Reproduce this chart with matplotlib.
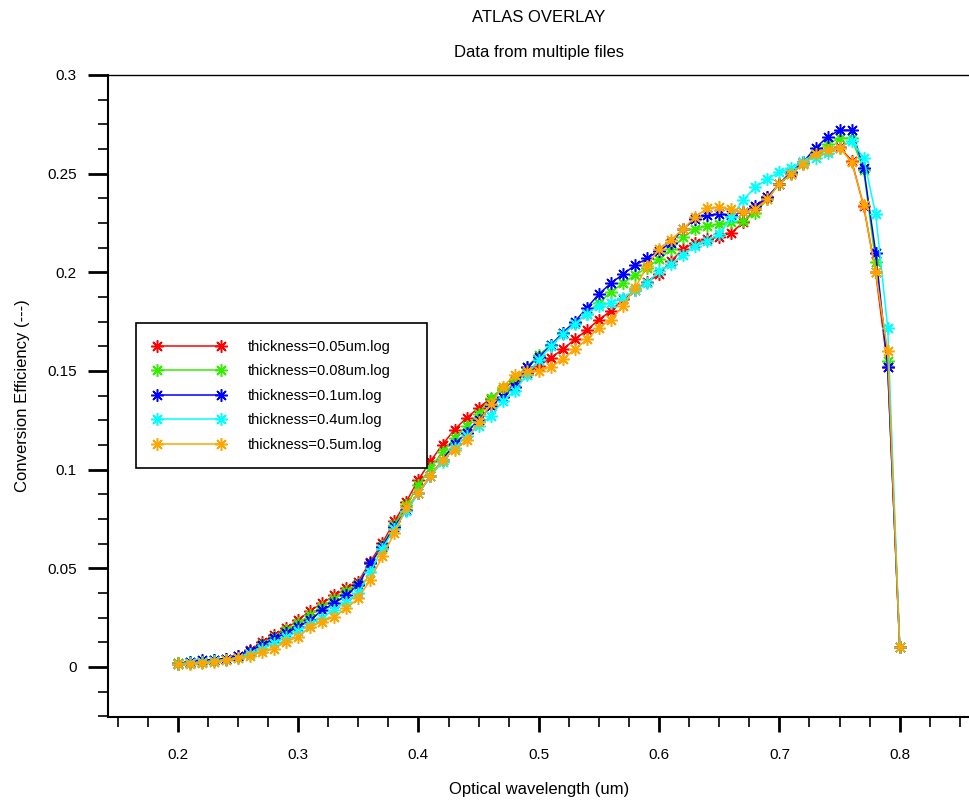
import matplotlib
matplotlib.use("Agg")
import matplotlib.pyplot as plt
from matplotlib.ticker import MultipleLocator
import numpy as np

plt.rcParams["font.family"] = ["Liberation Sans", "DejaVu Sans"]

# wavelength grid (um)
wavelength = [0.20, 0.21, 0.22, 0.23, 0.24, 0.25, 0.26, 0.27, 0.28, 0.29,
              0.30, 0.31, 0.32, 0.33, 0.34, 0.35, 0.36, 0.37, 0.38, 0.39,
              0.40, 0.41, 0.42, 0.43, 0.44, 0.45, 0.46, 0.47, 0.48, 0.49,
              0.50, 0.51, 0.52, 0.53, 0.54, 0.55, 0.56, 0.57, 0.58, 0.59,
              0.60, 0.61, 0.62, 0.63, 0.64, 0.65, 0.66, 0.67, 0.68, 0.69,
              0.70, 0.71, 0.72, 0.73, 0.74, 0.75, 0.76, 0.77, 0.78, 0.79,
              0.80]

eff_005 = [0.0020, 0.0022, 0.0027, 0.0033, 0.0042, 0.0055, 0.0085, 0.0125, 0.0160, 0.0195,
           0.0237, 0.0285, 0.0322, 0.0362, 0.0398, 0.0432, 0.0534, 0.0627, 0.0737, 0.0838,
           0.0949, 0.1042, 0.1127, 0.1203, 0.1262, 0.1313, 0.1360, 0.1410, 0.1450, 0.1490,
           0.1524, 0.1567, 0.1610, 0.1660, 0.1707, 0.1760, 0.1804, 0.1864, 0.1910, 0.1950,
           0.1990, 0.2058, 0.2117, 0.2150, 0.2168, 0.2180, 0.2200, 0.2253, 0.2320, 0.2380,
           0.2447, 0.2505, 0.2555, 0.2600, 0.2620, 0.2634, 0.2566, 0.2337, 0.2000, 0.1520,
           0.0100]

eff_008 = [0.0020, 0.0024, 0.0030, 0.0035, 0.0042, 0.0052, 0.0080, 0.0115, 0.0150, 0.0185,
           0.0220, 0.0265, 0.0305, 0.0345, 0.0385, 0.0420, 0.0525, 0.0615, 0.0720, 0.0820,
           0.0920, 0.1010, 0.1090, 0.1160, 0.1220, 0.1280, 0.1365, 0.1410, 0.1460, 0.1520,
           0.1580, 0.1630, 0.1690, 0.1745, 0.1787, 0.1846, 0.1900, 0.1945, 0.1985, 0.2024,
           0.2066, 0.2117, 0.2177, 0.2220, 0.2236, 0.2244, 0.2256, 0.2260, 0.2303, 0.2370,
           0.2450, 0.2500, 0.2550, 0.2610, 0.2650, 0.2680, 0.2680, 0.2520, 0.2050, 0.1550,
           0.0100]

eff_01 = [0.0017, 0.0025, 0.0034, 0.0037, 0.0042, 0.0055, 0.0081, 0.0110, 0.0144, 0.0170,
          0.0203, 0.0237, 0.0288, 0.0322, 0.0364, 0.0415, 0.0525, 0.0610, 0.0711, 0.0796,
          0.0880, 0.0966, 0.1050, 0.1130, 0.1186, 0.1253, 0.1320, 0.1370, 0.1420, 0.1520,
          0.1570, 0.1630, 0.1694, 0.1750, 0.1820, 0.1890, 0.1945, 0.1990, 0.2036, 0.2070,
          0.2110, 0.2150, 0.2220, 0.2270, 0.2290, 0.2295, 0.2290, 0.2305, 0.2337, 0.2380,
          0.2450, 0.2510, 0.2560, 0.2630, 0.2686, 0.2720, 0.2720, 0.2530, 0.2100, 0.1520,
          0.0100]

eff_04 = [0.0017, 0.0020, 0.0025, 0.0030, 0.0037, 0.0045, 0.0065, 0.0090, 0.0120, 0.0150,
          0.0180, 0.0215, 0.0250, 0.0290, 0.0330, 0.0375, 0.0480, 0.0600, 0.0700, 0.0790,
          0.0880, 0.0965, 0.1040, 0.1110, 0.1170, 0.1220, 0.1270, 0.1347, 0.1400, 0.1480,
          0.1555, 0.1626, 0.1686, 0.1740, 0.1790, 0.1830, 0.1845, 0.1870, 0.1910, 0.1945,
          0.2007, 0.2040, 0.2090, 0.2134, 0.2160, 0.2194, 0.2278, 0.2368, 0.2430, 0.2473,
          0.2507, 0.2530, 0.2560, 0.2580, 0.2605, 0.2630, 0.2667, 0.2580, 0.2295, 0.1720,
          0.0100]

eff_05 = [0.0015, 0.0017, 0.0022, 0.0027, 0.0035, 0.0043, 0.0055, 0.0076, 0.0093, 0.0127,
          0.0152, 0.0203, 0.0229, 0.0254, 0.0297, 0.0347, 0.0442, 0.0560, 0.0678, 0.0810,
          0.0880, 0.0970, 0.1050, 0.1100, 0.1150, 0.1240, 0.1330, 0.1420, 0.1477, 0.1500,
          0.1500, 0.1520, 0.1560, 0.1610, 0.1660, 0.1720, 0.1760, 0.1830, 0.1920, 0.2030,
          0.2120, 0.2165, 0.2220, 0.2280, 0.2324, 0.2330, 0.2320, 0.2305, 0.2320, 0.2370,
          0.2450, 0.2500, 0.2550, 0.2600, 0.2620, 0.2630, 0.2560, 0.2340, 0.2000, 0.1600,
          0.0100]

series = [
    ("thickness=0.05um.log", eff_005, "#ff0000"),
    ("thickness=0.08um.log", eff_008, "#33ee00"),
    ("thickness=0.1um.log", eff_01, "#0000ff"),
    ("thickness=0.4um.log", eff_04, "#00ffff"),
    ("thickness=0.5um.log", eff_05, "#ffa500"),
]

fig = plt.figure(figsize=(9.70, 8.01), dpi=100)
ax = fig.add_axes([108 / 970, 84 / 801, 862 / 970, 642 / 801])

for lbl, vals, col in series:
    ax.plot(wavelength, vals, color=col, lw=1.1, marker=(8, 2, 0),
            markersize=9, markeredgewidth=1.1, label=lbl)

ax.set_xlim(0.142, 0.8584)
ax.set_ylim(-0.0254, 0.3)

ax.xaxis.set_minor_locator(MultipleLocator(0.025))
ax.yaxis.set_minor_locator(MultipleLocator(0.0125))
ax.set_xticks(np.arange(0.2, 0.81, 0.1))
ax.set_yticks(np.arange(0, 0.301, 0.05))
ax.xaxis.set_major_formatter(plt.FuncFormatter(lambda v, p: f"{round(v, 3):g}"))
ax.yaxis.set_major_formatter(plt.FuncFormatter(lambda v, p: f"{round(v, 3):g}"))

ax.spines["right"].set_visible(False)
ax.spines["left"].set_linewidth(1.5)
ax.spines["bottom"].set_linewidth(1.5)
ax.spines["top"].set_linewidth(1.0)

ax.tick_params(axis="y", which="major", direction="out", length=14.5, width=2,
               labelsize=11, pad=8)
ax.tick_params(axis="y", which="minor", direction="out", length=7.5, width=1.2)
ax.tick_params(axis="x", which="major", direction="out", length=10.5, width=2,
               labelsize=11, pad=12)
ax.tick_params(axis="x", which="minor", direction="out", length=7, width=1.2)

ax.set_xlabel("Optical wavelength (um)", fontsize=12, labelpad=14)
ax.set_ylabel("Conversion Efficiency (---)", fontsize=12, labelpad=12)

fig.text(539 / 970, 1 - 18 / 801, "ATLAS OVERLAY", ha="center", va="center",
         fontsize=12)
fig.text(539 / 970, 1 - 53 / 801, "Data from multiple files", ha="center",
         va="center", fontsize=12)

leg = ax.legend(loc="upper left", bbox_to_anchor=(0.0325, 0.389, 0.3376, 0.2248),
                mode="expand", borderaxespad=0, fontsize=10.5, numpoints=2,
                handlelength=5.0, handletextpad=1.5, borderpad=1.15,
                labelspacing=0.72, fancybox=False, framealpha=1)
leg.get_frame().set_edgecolor("black")
leg.get_frame().set_linewidth(1.2)

fig.savefig("out.png", dpi=100)
